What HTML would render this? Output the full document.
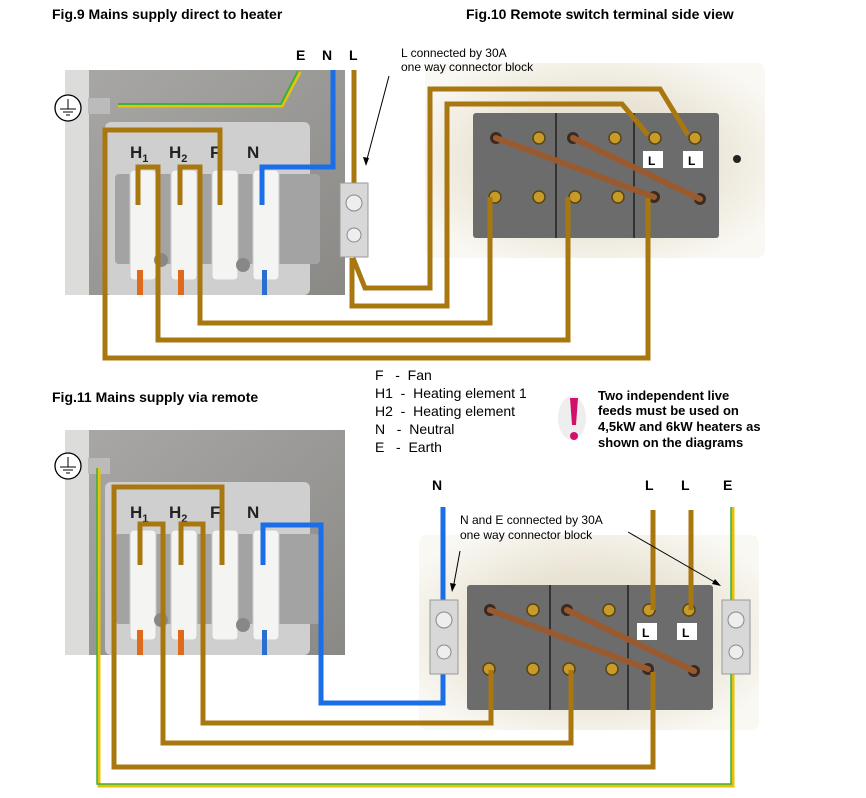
<!DOCTYPE html>
<html><head><meta charset="utf-8"><style>
body{margin:0;background:#fff}
svg{display:block}
text{font-family:"Liberation Sans",sans-serif}
</style></head><body>
<svg width="866" height="798" viewBox="0 0 866 798" xmlns="http://www.w3.org/2000/svg">
<defs>
<linearGradient id="ph" x1="0" y1="0" x2="1" y2="1"><stop offset="0" stop-color="#a9a8a6"/><stop offset="1" stop-color="#8a8986"/></linearGradient>
<radialGradient id="pl" cx="0.5" cy="0.5" r="0.6"><stop offset="0.5" stop-color="#e9e3d3"/><stop offset="1" stop-color="#f9f8f3"/></radialGradient>
<g id="photo">
<rect x="0" y="0" width="280" height="225" fill="url(#ph)"/>
<rect x="0" y="0" width="24" height="225" fill="#dcdcda"/>
<rect x="40" y="52" width="205" height="173" rx="6" fill="#cfcfcf"/>
<rect x="50" y="104" width="205" height="90" rx="4" fill="#a3a3a3"/>
<g fill="#f4f4f2" stroke="#ccc">
<rect x="65" y="100" width="26" height="110" rx="4"/><rect x="106" y="100" width="26" height="110" rx="4"/>
<rect x="147" y="100" width="26" height="110" rx="4"/><rect x="188" y="100" width="26" height="110" rx="4"/></g>
<g fill="#e06a1c"><rect x="72" y="200" width="6" height="25"/><rect x="113" y="200" width="6" height="25"/></g>
<rect x="197" y="200" width="5" height="25" fill="#2a6fd0"/>
<circle cx="96" cy="190" r="7" fill="#888"/><circle cx="178" cy="195" r="7" fill="#888"/>
<g font-size="17" font-weight="bold" fill="#222">
<text x="65" y="88">H<tspan font-size="11" dy="4">1</tspan></text>
<text x="104" y="88">H<tspan font-size="11" dy="4">2</tspan></text>
<text x="145" y="88">F</text>
<text x="182" y="88">N</text></g>
</g>
<g id="sw">
<rect x="0" y="0" width="340" height="195" rx="8" fill="url(#pl)"/>
<rect x="48" y="50" width="246" height="125" rx="3" fill="#6c6c6c"/>
<line x1="131" y1="50" x2="131" y2="175" stroke="#333" stroke-width="2"/><line x1="209" y1="50" x2="209" y2="175" stroke="#333" stroke-width="2"/>
<g fill="#c79a2a" stroke="#5a4510" stroke-width="1.5">
<circle cx="114" cy="75" r="6"/><circle cx="190" cy="75" r="6"/><circle cx="230" cy="75" r="6"/><circle cx="270" cy="75" r="6"/>
<circle cx="70" cy="134" r="6"/><circle cx="114" cy="134" r="6"/><circle cx="150" cy="134" r="6"/><circle cx="193" cy="134" r="6"/></g>
<g fill="#3a2a20"><circle cx="71" cy="75" r="6"/><circle cx="148" cy="75" r="6"/><circle cx="229" cy="134" r="6"/><circle cx="275" cy="136" r="6"/></g>
<g stroke="#9a5a30" stroke-width="6" stroke-linecap="round"><line x1="71" y1="75" x2="229" y2="134"/><line x1="148" y1="75" x2="275" y2="136"/></g>
<rect x="218" y="88" width="20" height="17" fill="#fff"/><rect x="258" y="88" width="20" height="17" fill="#fff"/>
<text x="223" y="102" font-size="12" font-weight="bold">L</text><text x="263" y="102" font-size="12" font-weight="bold">L</text>
<circle cx="312" cy="96" r="4" fill="#222"/>
</g>
<g id="cb"><rect x="0" y="0" width="28" height="74" fill="#d8d8d8" stroke="#999"/><circle cx="14" cy="20" r="8" fill="#eee" stroke="#888"/><circle cx="14" cy="52" r="7" fill="#eee" stroke="#888"/></g>
<g id="earth"><circle cx="0" cy="0" r="13" fill="#fff" stroke="#000" stroke-width="1.3"/><line x1="0" y1="-9" x2="0" y2="1" stroke="#000"/><line x1="-8" y1="1" x2="8" y2="1" stroke="#000"/><line x1="-5" y1="4" x2="5" y2="4" stroke="#000"/><line x1="-2" y1="7" x2="2" y2="7" stroke="#000"/></g>
</defs>

<text x="52" y="19" font-size="14" font-weight="bold">Fig.9 Mains supply direct to heater</text>
<text x="466" y="19" font-size="14" font-weight="bold">Fig.10 Remote switch terminal side view</text>
<text x="52" y="402" font-size="14" font-weight="bold">Fig.11 Mains supply via remote</text>

<!-- top -->
<use href="#photo" x="65" y="70"/>
<rect x="88" y="98" width="22" height="16" fill="#bbb"/>
<use href="#earth" x="68" y="108"/>
<use href="#sw" x="425" y="63"/>
<g fill="none" stroke-width="3"><polyline points="118,106 282,106 300,72" stroke="#e8c20a"/><polyline points="118,104 281,104 298,71" stroke="#3bb03b" stroke-width="2"/></g>
<g fill="none" stroke="#a87710" stroke-width="5">
<polyline points="138,205 138,167 158,167 158,340 568,340 568,197"/>
<polyline points="180,205 180,167 200,167 200,323 490,323 490,197"/>
<polyline points="220,205 220,130 105,130 105,358 648,358 648,198"/>
<line x1="354" y1="70" x2="354" y2="183"/>
<polyline points="353,258 365,288 430,288 430,89 660,89 688,135"/>
<polyline points="352,258 352,306 447,306 447,104 622,104 648,135"/>
</g>
<polyline points="262,205 262,167 333,167 333,70" fill="none" stroke="#1a6fe8" stroke-width="5"/>
<use href="#cb" x="340" y="183"/>
<text x="296" y="60" font-size="14" font-weight="900">E</text><text x="322" y="60" font-size="14" font-weight="900">N</text><text x="349" y="60" font-size="14" font-weight="900">L</text>
<text x="401" y="57" font-size="12">L connected by 30A</text><text x="401" y="71" font-size="12">one way connector block</text>
<line x1="389" y1="76" x2="366" y2="163" stroke="#000"/><polygon points="366,166 363,157 369,158" fill="#000"/>

<!-- legend -->
<g font-size="14"><text x="375" y="380">F&#160;&#160;&#160;-&#160;&#160;Fan</text><text x="375" y="398">H1&#160;&#160;-&#160;&#160;Heating element 1</text><text x="375" y="416">H2&#160;&#160;-&#160;&#160;Heating element</text><text x="375" y="434">N&#160;&#160;&#160;-&#160;&#160;Neutral</text><text x="375" y="452">E&#160;&#160;&#160;-&#160;&#160;Earth</text></g>
<ellipse cx="572" cy="418" rx="14" ry="22" fill="#eee"/>
<path d="M570 398 L578 398 L576 425 L572 425 Z" fill="#d0106a"/><circle cx="574" cy="436" r="4" fill="#d0106a"/>
<g font-size="13" font-weight="bold"><text x="598" y="400">Two independent live</text><text x="598" y="415">feeds must be used on</text><text x="598" y="431">4,5kW and 6kW heaters as</text><text x="598" y="447">shown on the diagrams</text></g>

<!-- bottom -->
<use href="#photo" x="65" y="430"/>
<rect x="88" y="458" width="22" height="16" fill="#bbb"/>
<use href="#earth" x="68" y="466"/>
<use href="#sw" x="419" y="535"/>
<g fill="none" stroke-width="3"><polyline points="99,468 99,786 733,786 733,507" stroke="#e8c20a"/><polyline points="97,468 97,784 731,784 731,507" stroke="#3bb03b" stroke-width="1.5"/></g>
<g fill="none" stroke="#a87710" stroke-width="5">
<polyline points="140,565 140,524 163,524 163,743 571,743 571,670"/>
<polyline points="181,565 181,524 203,524 203,723 491,723 491,670"/>
<polyline points="222,565 222,487 114,487 114,767 653,767 653,672"/>
<line x1="653" y1="510" x2="653" y2="610"/><line x1="691" y1="510" x2="691" y2="610"/>
</g>
<polyline points="263,565 263,525 321,525 321,703 443,703 443,507" fill="none" stroke="#1a6fe8" stroke-width="5"/>
<use href="#cb" x="430" y="600"/><use href="#cb" x="722" y="600"/>
<g font-size="14" font-weight="900"><text x="432" y="490">N</text><text x="645" y="490">L</text><text x="681" y="490">L</text><text x="723" y="490">E</text></g>
<text x="460" y="524" font-size="12">N and E connected by 30A</text><text x="460" y="539" font-size="12">one way connector block</text>
<line x1="460" y1="551" x2="453" y2="589" stroke="#000"/><polygon points="452,592 450,583 456,584" fill="#000"/>
<line x1="628" y1="532" x2="718" y2="584" stroke="#000"/><polygon points="721,586 712,584 715,579" fill="#000"/>
</svg>
</body></html>
